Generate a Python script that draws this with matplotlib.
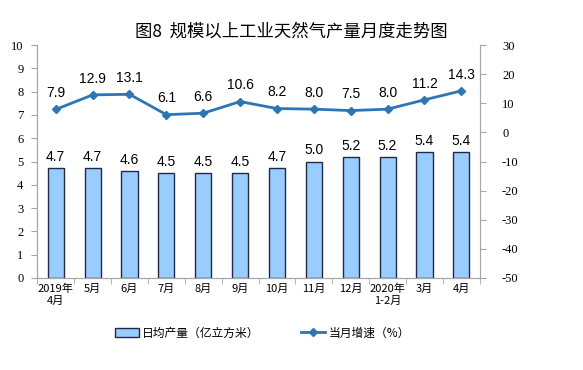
import matplotlib.pyplot as plt
import numpy as np

plt.rcParams['font.family'] = ['Liberation Sans', 'Noto Sans CJK SC', 'DejaVu Sans']
plt.rcParams['axes.unicode_minus'] = False

# Данные
months = ["2019年\n4月", "5月", "6月", "7月", "8月", "9月", "10月", "11月", "12月",
          "2020年\n1-2月", "3月", "4月"]
daily_output = [4.7, 4.7, 4.6, 4.5, 4.5, 4.5, 4.7, 5.0, 5.2, 5.2, 5.4, 5.4]
growth = [7.9, 12.9, 13.1, 6.1, 6.6, 10.6, 8.2, 8.0, 7.5, 8.0, 11.2, 14.3]

bar_color = "#99CCFF"
line_color = "#2E75B6"
spine_color = "#A6A6A6"

fig = plt.figure(figsize=(5.83, 3.70), dpi=100)
ax = fig.add_axes([0.064, 0.249, 0.759, 0.629])
ax2 = ax.twinx()

x = np.arange(len(months))
ax.bar(x, daily_output, width=0.44, color=bar_color, edgecolor="#1F2A44",
       linewidth=1.0, label="日均产量（亿立方米）", zorder=2)
for xi, v in zip(x, daily_output):
    ax.text(xi, v + 0.18, f"{v:.1f}", ha="center", va="bottom", fontsize=10)

ax2.plot(x, growth, color=line_color, lw=2, marker="D", ms=4.5,
         label="当月增速（%）", zorder=3)
for xi, v in zip(x, growth):
    ax2.text(xi, v + 3.2, f"{v:.1f}", ha="center", va="bottom", fontsize=10)

ax.set_xlim(-0.5, len(months) - 0.5)
ax.set_ylim(0, 10)
ax.set_yticks(range(0, 11))
ax2.set_ylim(-50, 30)
ax2.set_yticks(range(-50, 31, 10))

ax.set_xticks(x)
ax.set_xticklabels(months, fontsize=8, family=["Noto Sans CJK SC"], linespacing=1.3)
ax.set_xticks(np.arange(-0.5, len(months)), minor=True)
ax.tick_params(axis="x", which="major", length=0, pad=4)
ax.tick_params(axis="x", which="minor", length=4, color=spine_color)

for a in (ax, ax2):
    for s in a.spines.values():
        s.set_color(spine_color)
    a.spines["top"].set_visible(False)
    a.tick_params(axis="y", length=4, color=spine_color, labelsize=9)
    for lbl in a.get_yticklabels():
        lbl.set_family("Liberation Serif")
ax.tick_params(axis="y", pad=6)
ax2.tick_params(axis="y", pad=12)

fig.suptitle("图8  规模以上工业天然气产量月度走势图", y=0.94, fontsize=12.5,
             family=["Noto Sans CJK SC", "DejaVu Sans"])

h1, l1 = ax.get_legend_handles_labels()
h2, l2 = ax2.get_legend_handles_labels()
fig.legend(h1 + h2, l1 + l2, loc="center", bbox_to_anchor=(0.45, 0.1), ncol=2,
           frameon=False, columnspacing=3.5, handlelength=2.0, handleheight=0.8,
           handletextpad=0.3, prop={"family": "Noto Sans CJK SC", "size": 8.5})

fig.savefig("out.png", dpi=100)
